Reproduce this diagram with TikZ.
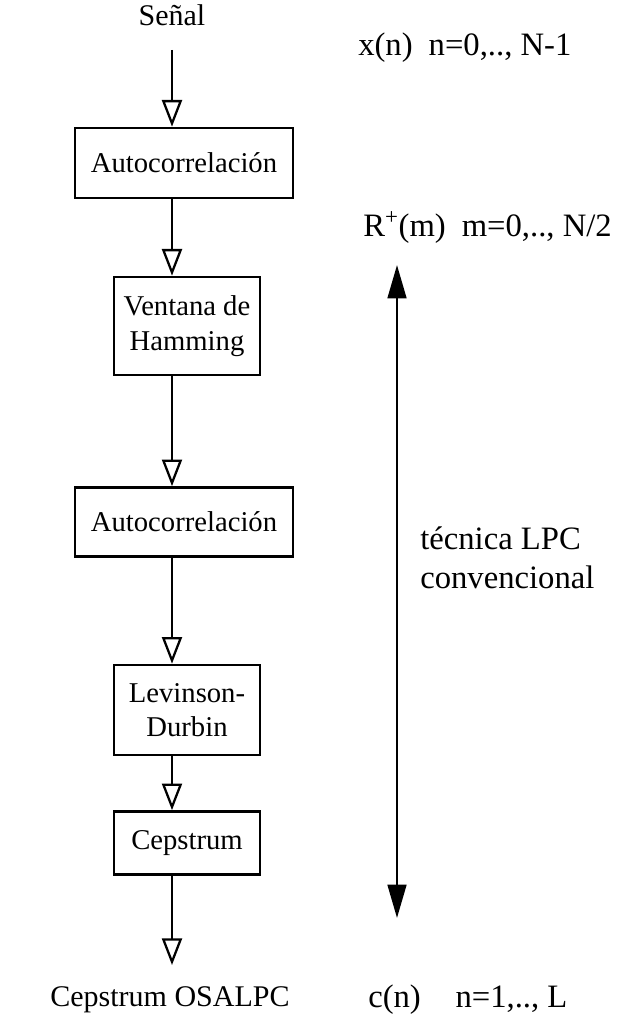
\documentclass[tikz,border=0pt]{standalone}
\usepackage{fontspec}
\setmainfont{Liberation Serif}
\usetikzlibrary{arrows.meta}

\begin{document}
\begin{tikzpicture}[x=0.75pt,y=0.75pt,yscale=-1,
  bloque/.style={draw,line width=2pt,inner sep=0pt,align=center,font=\fontsize{21.5}{26}\selectfont},
  texto/.style={inner sep=0pt,align=left,font=\fontsize{22.5}{27}\selectfont},
  etiqueta/.style={inner sep=0pt,align=left,anchor=west,font=\fontsize{24.5}{29}\selectfont},
  flecha/.style={line width=1.8pt,-{Triangle[open,length=20pt,width=15pt,line width=1.7pt]}},
  doble/.style={line width=2pt,{Triangle[length=25pt,width=14pt]}-{Triangle[length=25pt,width=14pt]}}]
\useasboundingbox (0,0) rectangle (620,1030);

%Bloques
\node[bloque,minimum width=218*0.75pt,minimum height=70*0.75pt] (autocorr1) at (184,163) {Autocorrelación};
\node[bloque,minimum width=146*0.75pt,minimum height=98*0.75pt] (hamming) at (187,326) {Ventana de\\Hamming};
\node[bloque,minimum width=218*0.75pt,minimum height=69*0.75pt] (autocorr2) at (184,522) {Autocorrelación};
\node[bloque,minimum width=146*0.75pt,minimum height=90*0.75pt] (levinson) at (187,710) {Levinson-\\Durbin};
\node[bloque,minimum width=146*0.75pt,minimum height=63*0.75pt] (cepstrum) at (187,843) {Cepstrum};

% Entrada y salida
\node[texto] (sennal) at (172,15) {Señal};
\coordinate (entrada) at (172,50);
\coordinate (fin) at (172,965);
\node[texto] (salida) at (170,1000) {Cepstrum OSALPC};

% Flechas
\draw[flecha] (entrada) -- (autocorr1.north -| entrada);
\draw[flecha] (autocorr1.south -| entrada) -- (hamming.north -| entrada);
\draw[flecha] (hamming.south -| entrada) -- (autocorr2.north -| entrada);
\draw[flecha] (autocorr2.south -| entrada) -- (levinson.north -| entrada);
\draw[flecha] (levinson.south -| entrada) -- (cepstrum.north -| entrada);
\draw[flecha] (cepstrum.south -| entrada) -- (fin);

% Etiquetas
\node[etiqueta] (xn) at (358,48) {x(n)\hspace{12pt}n=0,.., N-1};
\node[etiqueta] (rm) at (363,228) {R\textsuperscript{+}(m)\hspace{12pt}m=0,.., N/2};
\node[etiqueta] (cn) at (368,1000) {c(n)\hspace{26pt}n=1,.., L};
\node[etiqueta] (lpc) at (420,558) {técnica LPC\\convencional};

% Tecnica LPC convencional
\coordinate (lpcarriba) at (397,265);
\coordinate (lpcabajo) at (397,918);
\draw[doble] (lpcarriba) -- (lpcabajo);

\end{tikzpicture}
\end{document}
